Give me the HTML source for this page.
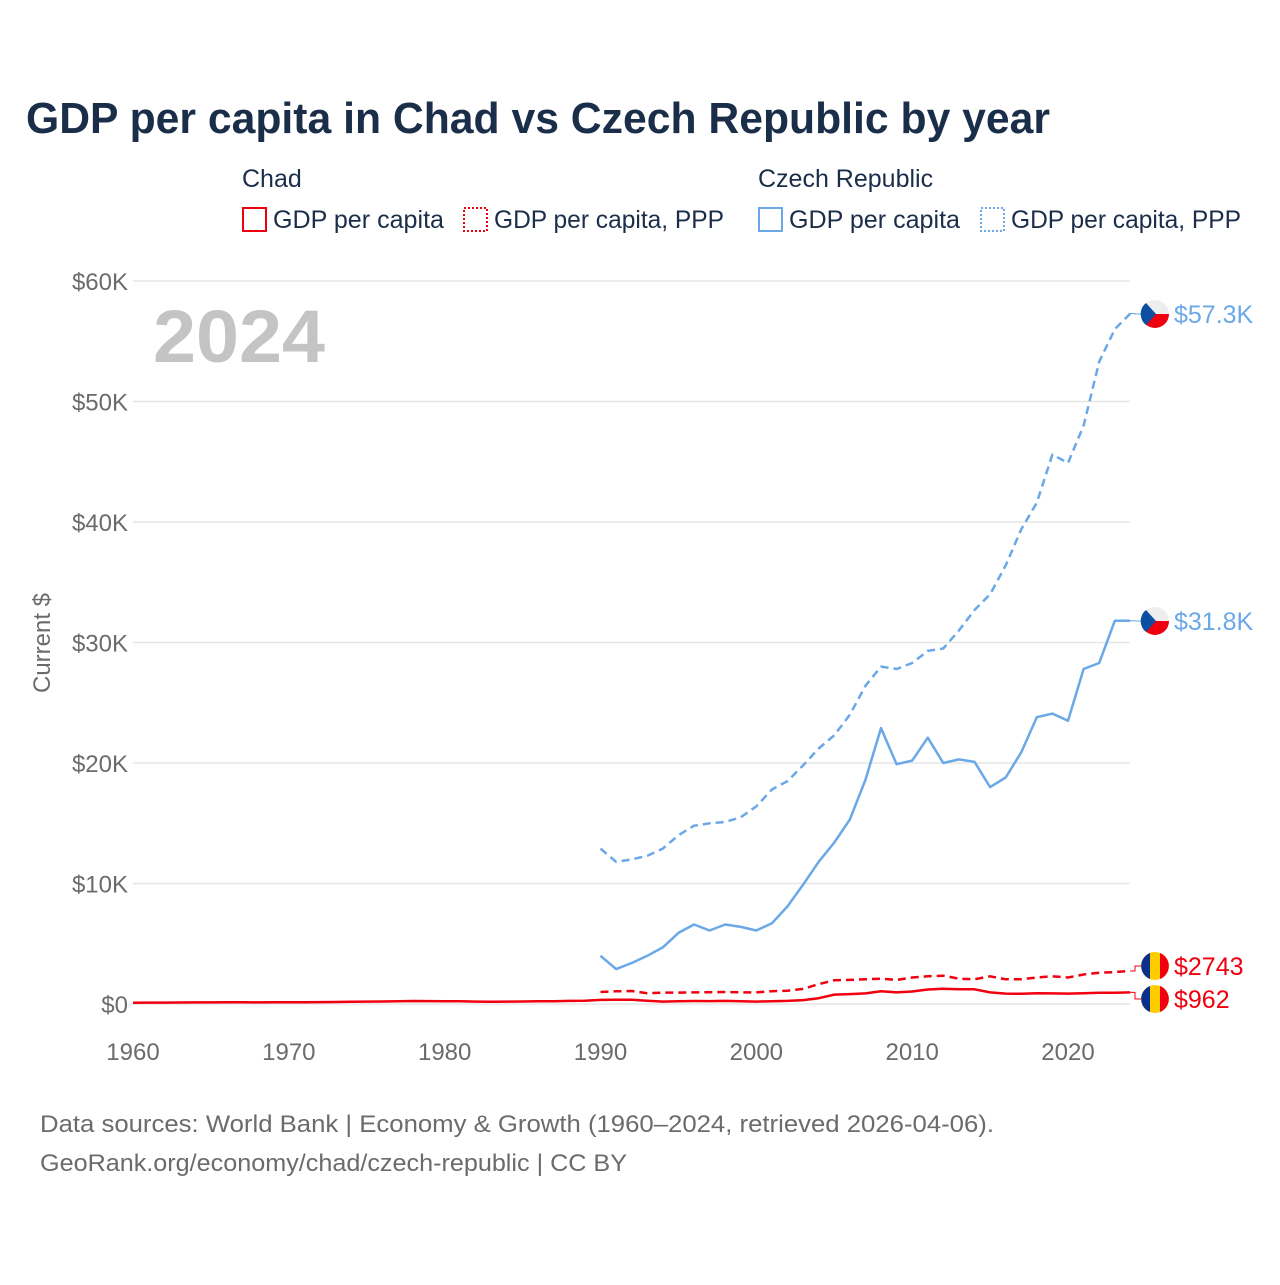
<!DOCTYPE html>
<html><head><meta charset="utf-8">
<style>
body{margin:0;background:#fff;font-family:"Liberation Sans",sans-serif}
svg text{font-family:"Liberation Sans",sans-serif}
</style></head><body>
<svg width="1280" height="1280" xmlns="http://www.w3.org/2000/svg">
<text x="26" y="133" font-size="44" font-weight="bold" fill="#1a2e4a" textLength="1024" lengthAdjust="spacingAndGlyphs">GDP per capita in Chad vs Czech Republic by year</text>
<g font-size="25" fill="#1a2e4a">
<text x="242" y="187" fill="#1a2e4a">Chad</text>
<text x="758" y="187" fill="#1a2e4a">Czech Republic</text>
<g><rect x="243" y="208" width="23" height="23" fill="none" stroke="#f0000f" stroke-width="2"/><text x="273" y="228" fill="#1a2e4a" textLength="171" lengthAdjust="spacingAndGlyphs">GDP per capita</text></g>
<g><rect x="464" y="208" width="23" height="23" fill="none" stroke="#f0000f" stroke-width="2" stroke-dasharray="2,2"/><text x="494" y="228" fill="#1a2e4a" textLength="230" lengthAdjust="spacingAndGlyphs">GDP per capita, PPP</text></g>
<g><rect x="759" y="208" width="23" height="23" fill="none" stroke="#6aa8e8" stroke-width="2"/><text x="789" y="228" fill="#1a2e4a" textLength="171" lengthAdjust="spacingAndGlyphs">GDP per capita</text></g>
<g><rect x="981" y="208" width="23" height="23" fill="none" stroke="#6aa8e8" stroke-width="2" stroke-dasharray="2,2"/><text x="1011" y="228" fill="#1a2e4a" textLength="230" lengthAdjust="spacingAndGlyphs">GDP per capita, PPP</text></g>
</g>
<text x="153" y="362" font-size="74" font-weight="bold" fill="#c4c4c4" textLength="172" lengthAdjust="spacingAndGlyphs">2024</text>
<text transform="translate(50,643) rotate(-90)" text-anchor="middle" font-size="24" fill="#6b6b6b">Current $</text>
<g id="grid"></g><g id="series"></g><g id="labels"></g>
<text x="40" y="1132" font-size="24" fill="#6b6b6b" textLength="954" lengthAdjust="spacingAndGlyphs">Data sources: World Bank | Economy &amp; Growth (1960–2024, retrieved 2026-04-06).</text>
<text x="40" y="1171" font-size="24" fill="#6b6b6b" textLength="587" lengthAdjust="spacingAndGlyphs">GeoRank.org/economy/chad/czech-republic | CC BY</text>
</svg>
<script>
const yTicks=[0,10000,20000,30000,40000,50000,60000];
const yTickLabels=["$0","$10K","$20K","$30K","$40K","$50K","$60K"];
const xTicks=[1960,1970,1980,1990,2000,2010,2020];
const chadYears=[1960,1961,1962,1963,1964,1965,1966,1967,1968,1969,1970,1971,1972,1973,1974,1975,1976,1977,1978,1979,1980,1981,1982,1983,1984,1985,1986,1987,1988,1989,1990,1991,1992,1993,1994,1995,1996,1997,1998,1999,2000,2001,2002,2003,2004,2005,2006,2007,2008,2009,2010,2011,2012,2013,2014,2015,2016,2017,2018,2019,2020,2021,2022,2023,2024];
const chadGdp=[110,115,120,125,130,135,140,140,135,140,140,145,160,170,180,200,210,220,250,240,230,220,200,180,200,210,220,220,260,270,340,360,350,270,200,230,250,240,260,220,200,230,260,320,480,780,820,880,1060,960,1040,1200,1260,1230,1220,960,860,850,900,880,860,900,940,940,962];
const chadPpp=[null,null,null,null,null,null,null,null,null,null,null,null,null,null,null,null,null,null,null,null,null,null,null,null,null,null,null,null,null,null,1000,1050,1080,900,950,950,960,980,1000,970,960,1060,1100,1250,1650,1970,2000,2050,2100,2000,2200,2300,2350,2100,2050,2300,2050,2050,2200,2300,2200,2450,2600,2650,2743];
const czYears=[1990,1991,1992,1993,1994,1995,1996,1997,1998,1999,2000,2001,2002,2003,2004,2005,2006,2007,2008,2009,2010,2011,2012,2013,2014,2015,2016,2017,2018,2019,2020,2021,2022,2023,2024];
const czGdp=[4000,2900,3400,4000,4700,5900,6600,6100,6600,6400,6100,6700,8100,9900,11800,13400,15300,18600,22900,19900,20200,22100,20000,20300,20100,18000,18800,20900,23800,24100,23500,27800,28300,31800,31800];
const czPpp=[12900,11800,12000,12300,12900,14000,14800,15000,15100,15500,16400,17800,18500,19800,21200,22300,24000,26400,28000,27800,28300,29300,29500,31000,32700,34000,36400,39400,41600,45600,44900,48000,53300,56000,57300];
const NS="http://www.w3.org/2000/svg";
const X=y=>133+(y-1960)*(1068-133)/60;
const Y=v=>1004-v*(1004-281)/60000;
function mk(t,a,p){const e=document.createElementNS(NS,t);for(const k in a)e.setAttribute(k,a[k]);p.appendChild(e);return e;}
const grid=document.getElementById('grid');
yTicks.forEach((v,i)=>{
 const l=mk('line',{x1:133,x2:1130,y1:Y(v),y2:Y(v),stroke:'#e6e6e6','stroke-width':1.5},grid);
 
 
 const t=mk('text',{x:128,y:Y(v)+9,'text-anchor':'end','font-size':24,fill:'#6b6b6b'},grid);
 t.textContent=yTickLabels[i];
 
 
});
xTicks.forEach(v=>{
 const t=mk('text',{x:X(v),y:1060,'text-anchor':'middle','font-size':24,fill:'#6b6b6b'},grid);
 t.textContent=v;
 
 
});
const ser=document.getElementById('series');
function line(yrs,vals,color,dash,name){
 let d='';yrs.forEach((y,i)=>{if(vals[i]==null)return;d+=(d?'L':'M')+X(y).toFixed(1)+','+Y(vals[i]).toFixed(1);});
 const p=mk('path',{d:d,fill:'none',stroke:color,'stroke-width':2.5,'stroke-linejoin':'round'},ser);
 if(dash)p.setAttribute('stroke-dasharray','8,5');
 
 
}
line(chadYears,chadGdp,'#f0000f',false,'chad-gdp-line');
line(chadYears,chadPpp,'#f0000f',true,'chad-ppp-line');
line(czYears,czGdp,'#6aa8e8',false,'czech-gdp-line');
line(czYears,czPpp,'#6aa8e8',true,'czech-ppp-line');
const lab=document.getElementById('labels');
function endLabel(v,ly,color,text,flag,name){
 const g=mk('g',{},lab);
 
 
 mk('path',{d:`M${X(2024)},${Y(v)}L1135,${Y(v)}L1135,${ly}L1142,${ly}`,fill:'none',stroke:color,'stroke-width':1},g);
 const cx=1155,r=14;
 if(flag==='cz'){
  mk('circle',{cx:cx,cy:ly,r:r,fill:'#eeeeee'},g);
  mk('path',{d:`M${cx-r},${ly}A${r},${r} 0 0 0 ${cx+r},${ly}Z`,fill:'#f0000f'},g);
  mk('path',{d:`M${cx-9},${ly-11}L${cx+1},${ly}L${cx-9},${ly+11}A${r},${r} 0 0 1 ${cx-9},${ly-11}Z`,fill:'#0b4ea2'},g);
 }else{
  mk('circle',{cx:cx,cy:ly,r:r,fill:'#ffcc00'},g);
  mk('path',{d:`M${cx-5},${ly-13}A${r},${r} 0 0 0 ${cx-5},${ly+13}Z`,fill:'#0b2f8f'},g);
  mk('path',{d:`M${cx+5},${ly-13}A${r},${r} 0 0 1 ${cx+5},${ly+13}Z`,fill:'#f0000f'},g);
 }
 const t=mk('text',{x:1174,y:ly+9,'font-size':25,fill:color},g);t.textContent=text;
}
endLabel(czPpp[czPpp.length-1],314,'#6aa8e8','$57.3K','cz','czech-ppp-end-label');
endLabel(czGdp[czGdp.length-1],621,'#6aa8e8','$31.8K','cz','czech-gdp-end-label');
endLabel(chadPpp[chadPpp.length-1],966,'#f0000f','$2743','td','chad-ppp-end-label');
endLabel(chadGdp[chadGdp.length-1],999,'#f0000f','$962','td','chad-gdp-end-label');
</script>
</body></html>
